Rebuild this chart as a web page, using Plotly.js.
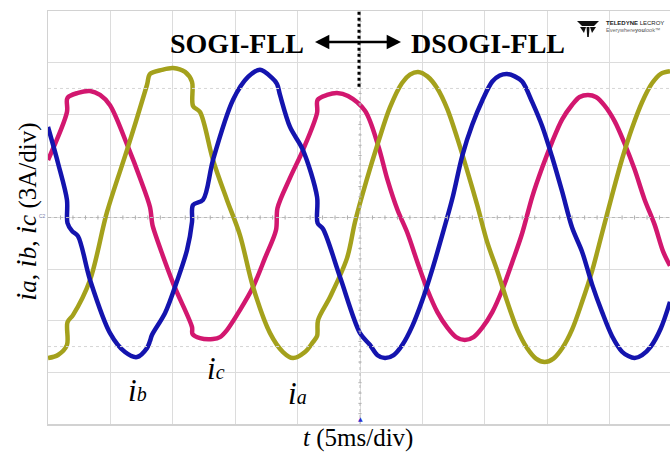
<!DOCTYPE html>
<html>
<head>
<meta charset="utf-8">
<script src="https://cdn.plot.ly/plotly-3.0.1.min.js"></script>
<style>
  html, body { margin: 0; padding: 0; background: #ffffff; }
  #chart { width: 670px; height: 452px; }
</style>
</head>
<body>
<div id="chart"></div>
<script>
// Time in ms (5 ms/div), current in A (3 A/div)
const t_ia = [0,0.80,1.52,1.56,2.00,3.37,4.73,6.41,7.93,8.17,9.13,10.02,10.98,11.54,11.62,12.18,13.22,14.34,15.38,16.43,17.79,18.83,19.63,20.59,21.23,21.56,21.64,22.60,23.96,24.60,25.5,26.44,27.4,28.37,29.0,29.65,30.4,31.2,32.0,32.8,33.6,34.4,35.2,36.0,36.8,37.6,38.4,39.1,39.8,40.5,41.2,42.0,42.8,43.6,44.4,45.2,46.0,46.8,47.6,48.4,49.1,49.84];
const ia   = [-8.17,-7.99,-7.41,-6.08,-5.67,-3.63,0.32,4.10,7.70,8.34,8.58,8.69,8.46,7.88,6.48,6.13,3.34,1.02,-1.02,-4.04,-6.72,-7.82,-8.17,-7.82,-7.24,-6.89,-5.96,-4.62,-2.36,-0.26,2.1,4.33,6.4,7.82,8.3,8.46,8.2,7.5,6.3,4.6,2.7,0.7,-1.45,-3.1,-4.9,-6.5,-7.6,-8.2,-8.4,-8.2,-7.6,-6.5,-4.9,-3.1,-0.9,1.3,3.4,5.2,6.7,7.8,8.35,8.5];

const t_ib = [0,0.80,1.52,1.56,1.92,2.40,3.37,4.97,6.17,7.13,7.93,8.17,8.33,9.38,10.34,11.14,11.54,11.62,12.42,13.22,14.82,16.03,16.99,17.95,18.35,18.59,19.39,20.43,21.56,21.60,22.04,23.40,25.00,25.8,26.4,27.0,27.7,28.4,29.2,30.0,30.8,31.6,32.4,33.2,34.0,34.8,35.6,36.2,36.78,37.4,38.0,38.8,39.6,40.4,41.2,42.0,42.8,43.6,44.4,45.2,46.0,46.5,47.0,47.6,48.3,49.1,49.84];
const ib   = [5.26,3.17,1.02,-0.32,-0.78,-1.08,-3.63,-6.72,-7.82,-8.11,-7.59,-7.18,-6.83,-5.55,-3.69,-1.89,-0.26,0.73,1.02,3.34,6.83,8.17,8.58,8.11,7.76,7.12,5.26,3.92,1.19,-0.32,-0.67,-3.46,-6.72,-7.41,-8.0,-8.17,-8.0,-7.4,-6.3,-4.8,-3.0,-1.0,1.1,3.6,5.4,6.8,7.9,8.25,8.34,8.2,7.9,6.7,5.3,3.5,1.5,-0.6,-2.0,-3.9,-5.5,-6.9,-7.8,-8.05,-8.17,-8.0,-7.5,-6.45,-4.9];

const t_ic = [0,1.52,1.56,2.40,3.37,4.17,4.97,6.41,7.37,8.17,8.33,8.41,10.02,11.54,11.58,12.18,13.22,13.78,14.34,15.38,16.43,17.39,18.27,18.39,19.39,20.43,21.56,21.60,22.36,23.16,24.04,25.4,26.44,27.2,28.0,28.8,29.6,30.4,31.2,32.0,32.7,33.4,34.1,34.8,35.6,36.4,37.2,38.0,38.8,39.6,40.4,41.2,42.0,42.6,43.27,43.9,44.6,45.4,46.2,47.0,47.8,48.6,49.3,49.84];
const ic   = [3.34,6.13,6.95,7.24,7.35,7.12,6.52,4.10,2.30,0.61,-0.26,-0.55,-3.81,-6.37,-6.77,-7.01,-7.06,-6.95,-6.54,-5.38,-4.04,-2.35,-0.73,0.55,2.30,3.92,6.08,6.83,7.12,7.24,7.06,6.2,4.22,2.2,0.45,-0.9,-2.6,-4.2,-5.5,-6.4,-6.95,-7.12,-6.95,-6.4,-5.5,-4.2,-2.6,-0.9,1.2,2.9,4.4,5.7,6.55,7.0,7.12,7.0,6.5,5.6,4.3,2.8,1.05,-0.4,-2.0,-2.8];

const switchTime = 25;      // ms, SOGI-FLL -> DSOGI-FLL
const xRange = [0, 49.84];
const yRange = [-12, 12];

const colors = { ia: '#a4a11c', ib: '#1414ae', ic: '#d2176f' };

function trace(x, y, c) {
  return { x: x, y: y, type: 'scatter', mode: 'lines',
           line: { color: c, width: 4.5, shape: 'spline', smoothing: 0.9 },
           hoverinfo: 'skip', showlegend: false };
}
const data = [
  trace(t_ic, ic, colors.ic),
  trace(t_ia, ia, colors.ia),
  trace(t_ib, ib, colors.ib)
];

// plot box in pixels
const L = 48, R = 670, T = 11, B = 424;
const PX = px => (px - L) / (R - L);
const PY = py => (B - py) / (B - T);

const shapes = [];
shapes.push({ type: 'line', xref: 'paper', yref: 'y', x0: 0, x1: 1, y0: 0, y1: 0,
              line: { color: '#b8b8b8', width: 1, dash: 'dot' } });
shapes.push({ type: 'line', xref: 'x', yref: 'paper', x0: switchTime, x1: switchTime, y0: 0, y1: 1,
              line: { color: '#b8b8b8', width: 1, dash: 'dot' } });
[7.5, -7.5].forEach(v => shapes.push({ type: 'line', xref: 'paper', yref: 'y', x0: 0, x1: 1, y0: v, y1: v,
              line: { color: '#d6d6d6', width: 1, dash: 'dot' } }));
for (let k = 1; k < 50; k++) {
  const tx = k * 1;
  if (tx > xRange[1]) break;
  if (k % 5 === 0) continue;
  shapes.push({ type: 'line', xref: 'x', yref: 'y', x0: tx, x1: tx, y0: -0.12, y1: 0.12,
                line: { color: '#b0b0b0', width: 1 } });
}
for (let k = -60; k <= 60; k++) {
  if (k % 5 === 0) continue;
  const yv = k * 0.6;
  if (yv <= yRange[0] || yv >= yRange[1]) continue;
  shapes.push({ type: 'line', xref: 'x', yref: 'y', x0: switchTime - 0.13, x1: switchTime + 0.13, y0: yv, y1: yv,
                line: { color: '#b0b0b0', width: 1 } });
}
shapes.push({ type: 'line', xref: 'x', yref: 'y', x0: switchTime - 0.08, x1: switchTime - 0.08, y0: 11.95, y1: 7.5,
              line: { color: '#000000', width: 3, dash: 'dot' } });
function P(px, py) { return PX(px).toFixed(4) + ',' + PY(py).toFixed(4); }
shapes.push({ type: 'path', xref: 'paper', yref: 'paper', fillcolor: '#111', line: { width: 0 },
  path: 'M' + P(577, 21) + ' L' + P(599, 21) + ' L' + P(594, 26) + ' L' + P(582, 26) + ' Z' });
shapes.push({ type: 'path', xref: 'paper', yref: 'paper', fillcolor: '#111', line: { width: 0 },
  path: 'M' + P(580, 27) + ' L' + P(586, 27) + ' L' + P(584, 33) + ' Z' });
shapes.push({ type: 'path', xref: 'paper', yref: 'paper', fillcolor: '#111', line: { width: 0 },
  path: 'M' + P(590, 27) + ' L' + P(596, 27) + ' L' + P(592, 33) + ' Z' });
shapes.push({ type: 'path', xref: 'paper', yref: 'paper', fillcolor: '#111', line: { width: 0 },
  path: 'M' + P(586.5, 27) + ' L' + P(589.5, 27) + ' L' + P(588.8, 37) + ' L' + P(587.2, 37) + ' Z' });

const serif = 'Liberation Serif, Times New Roman, serif';
const ann = [];
ann.push({ xref: 'paper', yref: 'paper', x: PX(401), y: PY(42), ax: PX(312), ay: PY(42),
           axref: 'paper', ayref: 'paper', text: ' ', showarrow: true,
           arrowhead: 2, startarrowhead: 2, arrowside: 'end+start', arrowsize: 1.1, startarrowsize: 1.1,
           arrowwidth: 2.6, arrowcolor: '#000' });
ann.push({ xref: 'paper', yref: 'paper', x: PX(306), y: PY(43), xanchor: 'right', yanchor: 'middle',
           text: '<b>SOGI-FLL</b>', showarrow: false, font: { family: serif, size: 28, color: '#000' } });
ann.push({ xref: 'paper', yref: 'paper', x: PX(409), y: PY(43), xanchor: 'left', yanchor: 'middle',
           text: '<b>DSOGI-FLL</b>', showarrow: false, font: { family: serif, size: 28, color: '#000' } });
ann.push({ xref: 'paper', yref: 'paper', x: PX(604), y: PY(23), xanchor: 'left', yanchor: 'middle',
           text: '<b>TELEDYNE</b> LECROY', showarrow: false,
           font: { family: 'Liberation Sans, sans-serif', size: 6, color: '#222' } });
ann.push({ xref: 'paper', yref: 'paper', x: PX(604), y: PY(30), xanchor: 'left', yanchor: 'middle',
           text: 'Everywhere<b>you</b>look™', showarrow: false,
           font: { family: 'Liberation Sans, sans-serif', size: 5.5, color: '#666' } });
ann.push({ xref: 'paper', yref: 'paper', x: PX(42), y: PY(216), xanchor: 'center', yanchor: 'middle',
           text: 'C2', showarrow: false, font: { family: 'Liberation Sans, sans-serif', size: 5, color: '#7a7aa8' } });
ann.push({ xref: 'x', yref: 'paper', x: switchTime, y: 0, xanchor: 'center', yanchor: 'bottom',
           text: '▲', showarrow: false, font: { family: 'DejaVu Sans, sans-serif', size: 6, color: '#2a2ad0' } });
function lab(name, sub, px, py) {
  ann.push({ xref: 'paper', yref: 'paper', x: PX(px), y: PY(py), xanchor: 'center', yanchor: 'middle',
             text: '<i>' + name + '</i><span style="font-size:20px"><i>' + sub + '</i></span>', showarrow: false,
             font: { family: serif, size: 31, color: '#000' } });
}
lab('i', 'b', 137, 390);
lab('i', 'c', 216, 368);
lab('i', 'a', 297, 393);
ann.push({ xref: 'paper', yref: 'paper', x: PX(25), y: PY(212), xanchor: 'center', yanchor: 'middle',
           textangle: -90, showarrow: false, font: { family: serif, size: 25, color: '#000' },
           text: '<span style="font-size:30px"><i>i</i></span><i>a</i>, <span style="font-size:30px"><i>i</i></span><i>b</i>, <span style="font-size:30px"><i>i</i></span><i>c</i> (3A/div)' });
ann.push({ xref: 'paper', yref: 'paper', x: PX(358), y: PY(438), xanchor: 'center', yanchor: 'middle',
           showarrow: false, font: { family: serif, size: 25, color: '#000' },
           text: '<i>t</i> (5ms/div)' });

const layout = {
  width: 670, height: 452,
  margin: { l: L, r: 670 - R, t: T, b: 452 - B },
  paper_bgcolor: '#ffffff', plot_bgcolor: '#ffffff',
  showlegend: false,
  xaxis: { range: xRange, dtick: 5, tick0: 0, showgrid: true, gridcolor: '#dcdcdc', gridwidth: 1,
           zeroline: false, showticklabels: false, ticks: '', showline: true, linecolor: '#d2d2d2',
           linewidth: 1.5, mirror: true, fixedrange: true },
  yaxis: { range: yRange, dtick: 3, tick0: 0, showgrid: true, gridcolor: '#dcdcdc', gridwidth: 1,
           zeroline: false, showticklabels: false, ticks: '', showline: true, linecolor: '#d2d2d2',
           linewidth: 1.5, mirror: true, fixedrange: true },
  shapes: shapes,
  annotations: ann
};

Plotly.newPlot('chart', data, layout, { staticPlot: true, displayModeBar: false });
</script>
</body>
</html>
